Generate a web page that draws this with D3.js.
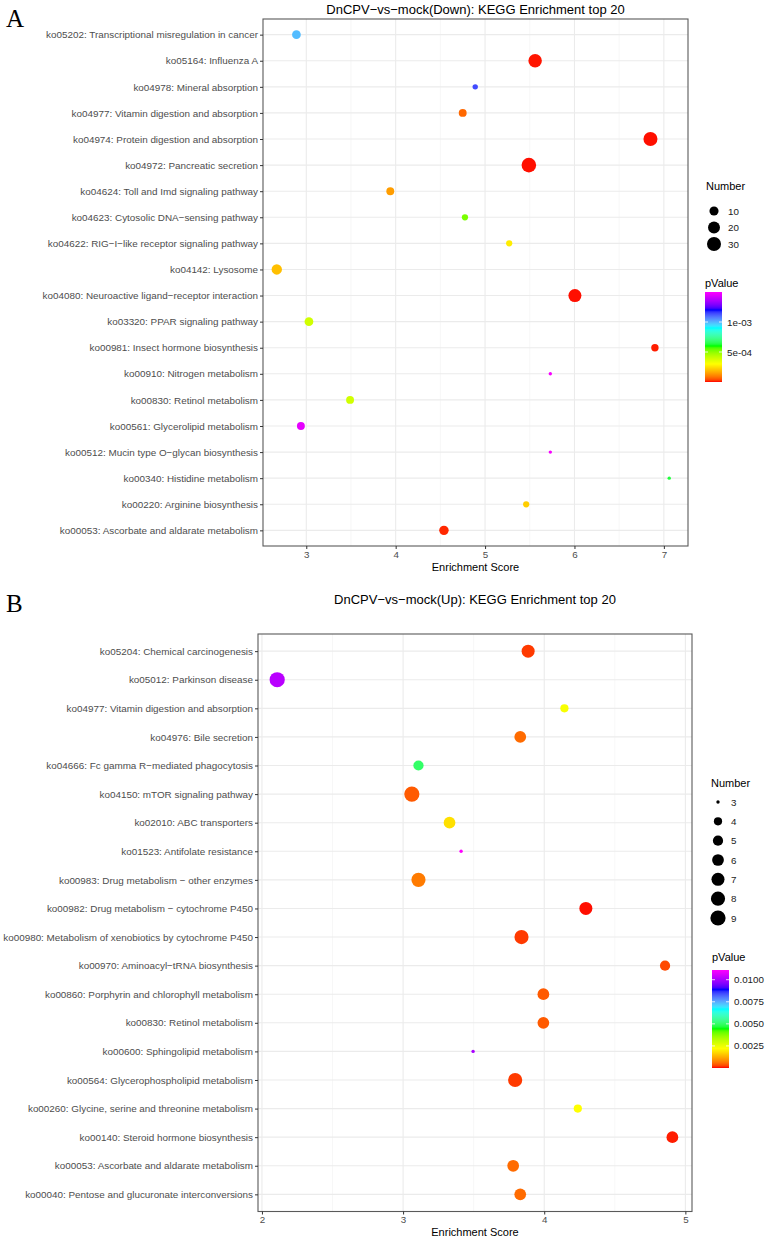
<!DOCTYPE html>
<html><head><meta charset="utf-8">
<script src="https://cdn.jsdelivr.net/npm/d3@7"></script>
<style>body{margin:0;background:#fff}svg{display:block}</style>
</head><body>
<script>
// ---------- Panel A data ----------
const catsA = ["ko05202: Transcriptional misregulation in cancer","ko05164: Influenza A","ko04978: Mineral absorption","ko04977: Vitamin digestion and absorption","ko04974: Protein digestion and absorption","ko04972: Pancreatic secretion","ko04624: Toll and Imd signaling pathway","ko04623: Cytosolic DNA−sensing pathway","ko04622: RIG−I−like receptor signaling pathway","ko04142: Lysosome","ko04080: Neuroactive ligand−receptor interaction","ko03320: PPAR signaling pathway","ko00981: Insect hormone biosynthesis","ko00910: Nitrogen metabolism","ko00830: Retinol metabolism","ko00561: Glycerolipid metabolism","ko00512: Mucin type O−glycan biosynthesis","ko00340: Histidine metabolism","ko00220: Arginine biosynthesis","ko00053: Ascorbate and aldarate metabolism"];
const scoreA = [2.89,5.56,4.89,4.75,6.85,5.49,3.94,4.775,5.27,2.67,6.005,3.03,6.90,5.73,3.49,2.94,5.73,7.06,5.46,4.54];
const numberA = [9,27,3,7,30,33,7,4,4,14,25,9,6,2,7,7,2,2,4,11];
const pvalueA = [0.99e-3,4.5e-6,1.14e-3,7e-5,3e-6,3e-6,1.43e-4,5.25e-4,2.7e-4,1.95e-4,3e-6,3.9e-4,7.5e-6,1.485e-3,3.9e-4,1.455e-3,1.485e-3,6.3e-4,2.2e-4,1.2e-5];
const xTicksA = [3,4,5,6,7];
const numBreaksA = [10,20,30];
const pTicksA = [1e-3,5e-4];
const pTickLabelsA = ["1e-03","5e-04"];

// ---------- Panel B data ----------
const catsB = ["ko05204: Chemical carcinogenesis","ko05012: Parkinson disease","ko04977: Vitamin digestion and absorption","ko04976: Bile secretion","ko04666: Fc gamma R−mediated phagocytosis","ko04150: mTOR signaling pathway","ko02010: ABC transporters","ko01523: Antifolate resistance","ko00983: Drug metabolism − other enzymes","ko00982: Drug metabolism − cytochrome P450","ko00980: Metabolism of xenobiotics by cytochrome P450","ko00970: Aminoacyl−tRNA biosynthesis","ko00860: Porphyrin and chlorophyll metabolism","ko00830: Retinol metabolism","ko00600: Sphingolipid metabolism","ko00564: Glycerophospholipid metabolism","ko00260: Glycine, serine and threonine metabolism","ko00140: Steroid hormone biosynthesis","ko00053: Ascorbate and aldarate metabolism","ko00040: Pentose and glucuronate interconversions"];
const scoreB = [3.886,2.108,4.143,3.83,3.109,3.062,3.329,3.411,3.109,4.295,3.839,4.856,3.994,3.994,3.496,3.794,4.238,4.908,3.78,3.83];
const numberB = [7,9,4,6,5,9,6,3,8,7,8,5,6,6,3,8,4,6,6,6];
const pvalueB = [1.8e-4,0.0102,0.00233,0.00055,0.0050,0.0004,0.00184,0.0111,0.0007,2e-5,1.8e-4,2.7e-4,4e-4,4e-4,0.0100,1.8e-4,0.00222,5.5e-5,0.00055,0.00055];
const xTicksB = [2,3,4,5];
const numBreaksB = [3,4,5,6,7,8,9];
const pTicksB = [0.0100,0.0075,0.0050,0.0025];
const pTickLabelsB = ["0.0100","0.0075","0.0050","0.0025"];

const rainbow6 = ["#FF0000","#FFFF00","#00FF00","#00FFFF","#0000FF","#FF00FF"];
const FONT = "'Liberation Sans', Arial, Helvetica, sans-serif";

const svg = d3.select("body").append("svg").attr("width",766).attr("height",1239);

function panel(o){
  const g = svg.append("g");
  const x = d3.scaleLinear().domain(o.xDomain).range([o.left,o.right]);
  const y = d3.scalePoint().domain(o.cats).range([o.top,o.bottom]).padding(0.6);
  const nExt = d3.extent(o.num);
  const nNorm = d3.scaleLinear().domain(nExt).range([0,1]);
  const rad = d3.scaleLinear().domain([0,1]).range(o.rRange);
  const r = n => rad(Math.sqrt(nNorm(n)));
  const pd = o.pDomain;
  const col = d3.scaleLinear()
    .domain(d3.range(6).map(i => pd[0] + i/5*(pd[1]-pd[0])))
    .range(rainbow6).interpolate(d3.interpolateLab);

  g.append("text").attr("x",o.letterX).attr("y",o.letterY).text(o.letter)
    .attr("font-family","'Liberation Serif','Times New Roman',serif").attr("font-size",25).attr("fill","#000");
  g.append("text").attr("x",(o.left+o.right)/2).attr("y",o.titleY).attr("text-anchor","middle")
    .attr("font-family",FONT).attr("font-size",13).attr("fill","#000").text(o.title);

  const minor = d3.range(Math.ceil(o.xDomain[0]*2)/2, o.xDomain[1], 0.5).filter(v => Math.abs(v-Math.round(v))>0.1);
  g.selectAll(".gmin").data(minor).enter().append("line")
    .attr("x1",d=>x(d)).attr("x2",d=>x(d)).attr("y1",o.top).attr("y2",o.bottom)
    .attr("stroke","#f2f2f2").attr("stroke-width",0.6);
  g.selectAll(".gx").data(o.xTicks).enter().append("line")
    .attr("x1",d=>x(d)).attr("x2",d=>x(d)).attr("y1",o.top).attr("y2",o.bottom)
    .attr("stroke","#ebebeb").attr("stroke-width",1.1);
  g.selectAll(".gy").data(o.cats).enter().append("line")
    .attr("x1",o.left).attr("x2",o.right).attr("y1",d=>y(d)).attr("y2",d=>y(d))
    .attr("stroke","#ebebeb").attr("stroke-width",1.1);

  g.selectAll(".pt").data(o.cats).enter().append("circle")
    .attr("cx",(d,i)=>x(o.score[i])).attr("cy",d=>y(d))
    .attr("r",(d,i)=>r(o.num[i])).attr("fill",(d,i)=>col(o.pval[i]));

  g.append("rect").attr("x",o.left).attr("y",o.top).attr("width",o.right-o.left).attr("height",o.bottom-o.top)
    .attr("fill","none").attr("stroke","#5a5a5a").attr("stroke-width",1.1);

  const xa = g.append("g").attr("transform",`translate(0,${o.bottom})`)
    .call(d3.axisBottom(x).tickValues(o.xTicks).tickSize(3).tickPadding(2).tickFormat(d3.format("d")));
  xa.select(".domain").remove();
  xa.selectAll(".tick line").attr("stroke","#333");
  xa.selectAll("text").attr("font-family",FONT).attr("font-size",9.8).attr("fill","#4d4d4d");
  const ya = g.append("g").attr("transform",`translate(${o.left},0)`)
    .call(d3.axisLeft(y).tickSize(3).tickPadding(2));
  ya.select(".domain").remove();
  ya.selectAll(".tick line").attr("stroke","#333");
  ya.selectAll("text").attr("font-family",FONT).attr("font-size",o.yFont).attr("fill","#4d4d4d");

  g.append("text").attr("x",(o.left+o.right)/2).attr("y",o.xlabY).attr("text-anchor","middle")
    .attr("font-family",FONT).attr("font-size",11).attr("fill","#000").text("Enrichment Score");

  const L = o.sizeLeg;
  g.append("text").attr("x",L.x).attr("y",L.titleY).attr("font-family",FONT).attr("font-size",11).attr("fill","#000").text("Number");
  const ly = d3.scalePoint().domain(o.numBreaks).range([L.y0,L.y1]);
  g.selectAll(".lc").data(o.numBreaks).enter().append("circle")
    .attr("cx",L.cx).attr("cy",d=>ly(d)).attr("r",d=>r(d)).attr("fill","#000");
  g.selectAll(".lt").data(o.numBreaks).enter().append("text")
    .attr("x",L.tx).attr("y",d=>ly(d)+3.5).attr("font-family",FONT).attr("font-size",9.8).attr("fill","#1a1a1a").text(d=>d);

  const C = o.colLeg;
  g.append("text").attr("x",C.x).attr("y",C.titleY).attr("font-family",FONT).attr("font-size",11).attr("fill","#000").text("pValue");
  const gid = "grad"+o.letter;
  const grad = svg.append("defs").append("linearGradient").attr("id",gid)
    .attr("x1",0).attr("y1",1).attr("x2",0).attr("y2",0);
  d3.range(0,1.0001,0.02).forEach(t=>{
    grad.append("stop").attr("offset",t).attr("stop-color",col(pd[0]+t*(pd[1]-pd[0])));
  });
  const cy = d3.scaleLinear().domain(pd).range([C.y1,C.y0]);
  g.append("rect").attr("x",C.x).attr("y",C.y0).attr("width",C.w).attr("height",C.y1-C.y0).attr("fill",`url(#${gid})`);
  o.pTicks.forEach((v,i)=>{
    g.append("line").attr("x1",C.x).attr("x2",C.x+3).attr("y1",cy(v)).attr("y2",cy(v)).attr("stroke","#fff").attr("stroke-width",0.8);
    g.append("line").attr("x1",C.x+C.w-3).attr("x2",C.x+C.w).attr("y1",cy(v)).attr("y2",cy(v)).attr("stroke","#fff").attr("stroke-width",0.8);
    g.append("text").attr("x",C.x+C.w+5).attr("y",cy(v)+3.5).attr("font-family",FONT).attr("font-size",9.8).attr("fill","#1a1a1a").text(o.pTickLabels[i]);
  });
}

panel({cats:catsA,score:scoreA,num:numberA,pval:pvalueA,xDomain:[2.516,7.27],xTicks:xTicksA,
  left:263,right:688,top:19,bottom:546,title:"DnCPV−vs−mock(Down): KEGG Enrichment top 20",titleY:14,
  letter:"A",letterX:6,letterY:27,xlabY:571,rRange:[1.7,7.3],pDomain:[0,1.5e-3],pTicks:pTicksA,pTickLabels:pTickLabelsA,yFont:9.9,
  numBreaks:numBreaksA,sizeLeg:{x:706,titleY:190,y0:211,y1:244,cx:714,tx:728},
  colLeg:{x:705,titleY:287,y0:292,y1:382,w:17}});

panel({cats:catsB,score:scoreB,num:numberB,pval:pvalueB,xDomain:[1.972,5.047],xTicks:xTicksB,
  left:258,right:692,top:634,bottom:1211.5,title:"DnCPV−vs−mock(Up): KEGG Enrichment top 20",titleY:604,
  letter:"B",letterX:6,letterY:612,xlabY:1236,rRange:[1.7,7.6],pDomain:[0,0.0111],pTicks:pTicksB,pTickLabels:pTickLabelsB,yFont:9.9,
  numBreaks:numBreaksB,sizeLeg:{x:711,titleY:787,y0:802,y1:918,cx:718,tx:731},
  colLeg:{x:712,titleY:961,y0:970,y1:1068,w:17}});
</script>
</body></html>
